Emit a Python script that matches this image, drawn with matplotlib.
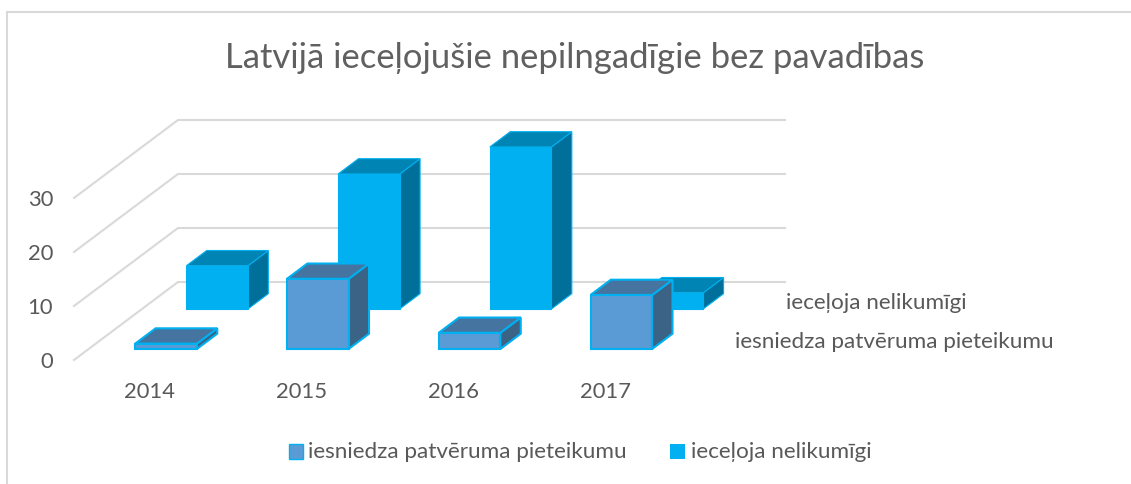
import matplotlib
matplotlib.use("Agg")
import matplotlib.pyplot as plt
from matplotlib.patches import Rectangle

# values
years = ["2014", "2015", "2016", "2017"]
asylum = [1, 13, 3, 10]
illegal = [8, 25, 30, 3]
series_names = ["iesniedza patvēruma pieteikumu", "ieceļoja nelikumīgi"]
value_ticks = [0, 10, 20, 30]
title = "Latvijā ieceļojušie nepilngadīgie bez pavadības"

W, H = 1131, 484
plt.rcParams["font.family"] = ["Lato", "Noto Sans", "DejaVu Sans"]
TEXT = "#595959"

fig = plt.figure(figsize=(W / 100, H / 100), dpi=100)

# front wall of the chart box in pixels, the depth is added on top of it
left, right, bottom, top = 74, 681, 360, 198
ax = fig.add_axes([left / W, 1 - bottom / H, (right - left) / W, (bottom - top) / H])
ax.set_xlim(-0.5, 3.5)
ax.set_ylim(0, 30)
ax.patch.set_visible(False)
for s in ax.spines.values():
    s.set_visible(False)

# one unit of depth moves 104 px right and 78 px up
DX = 104 / ((right - left) / 4)
DY = 78 / ((bottom - top) / 30)


def px(x, y, d):
    return x + d * DX, y + d * DY


def bar3d(i, value, d0, d1, front, top_c, side, edge, lw):
    w = 0.203
    x0, x1 = i - w, i + w
    face = [px(x0, 0, d0), px(x1, 0, d0), px(x1, value, d0), px(x0, value, d0)]
    roof = [px(x0, value, d0), px(x1, value, d0), px(x1, value, d1), px(x0, value, d1)]
    wall = [px(x1, 0, d0), px(x1, 0, d1), px(x1, value, d1), px(x1, value, d0)]
    for verts, c in ((wall, side), (roof, top_c), (face, front)):
        ax.fill(*zip(*verts), facecolor=c, edgecolor=edge, linewidth=lw,
                joinstyle="miter", clip_on=False, zorder=2)


# gridlines: floor/side wall part then back wall part
for v in value_ticks:
    xs = [-0.5, -0.5 + DX, 3.5 + DX]
    ys = [v, v + DY, v + DY]
    ax.plot(xs, ys, color="#d9d9d9", linewidth=1.5, clip_on=False, zorder=1)

# back row first, then the front row over it
for i, v in enumerate(illegal):
    bar3d(i - 0.005, v, 0.654, 0.85, "#00b0f0", "#0084b4", "#00709a", "#00b0f0", 0.8)
for i, v in enumerate(asylum):
    bar3d(i + 0.01, v, 0.141, 0.337, "#5b9bd5", "#44749f", "#3a6386", "#00b0f0", 1.5)

ax.set_xticks(range(len(years)))
ax.set_xticklabels(years)
ax.set_yticks(value_ticks)
ax.tick_params(axis="x", length=0, pad=16, labelsize=15.8, labelcolor=TEXT)
ax.tick_params(axis="y", length=0, pad=15, labelsize=15.8, labelcolor=TEXT)
for lab in ax.get_yticklabels():
    lab.set_verticalalignment("center_baseline")

# series names next to the depth axis
fig.text(876 / W, 1 - 303 / H, series_names[1], ha="center", va="center",
         fontsize=16.2, color=TEXT)
fig.text(894 / W, 1 - 342 / H, series_names[0], ha="center", va="center",
         fontsize=16.2, color=TEXT)

fig.text(574.5 / W, 1 - 58.5 / H, title, ha="center", va="center", fontsize=24.9, color="#606060")

# legend
fig.patches.append(Rectangle((288.5 / W, 1 - 459 / H), 14 / W, 15 / H, transform=fig.transFigure,
                             facecolor="#5b9bd5", edgecolor="#00b0f0", linewidth=1))
fig.text(308 / W, 1 - 452 / H, series_names[0], ha="left", va="center",
         fontsize=16.2, color=TEXT)
fig.patches.append(Rectangle((670 / W, 1 - 459 / H), 15 / W, 15 / H, transform=fig.transFigure,
                             facecolor="#00b0f0", edgecolor="none"))
fig.text(691 / W, 1 - 452 / H, series_names[1], ha="left", va="center",
         fontsize=16.2, color=TEXT)

# chart frame, the bottom and right sides are cut off in the source
fig.add_artist(plt.Line2D([6.5 / W, 6.5 / W], [0, 1 - 11.5 / H], color="#d9d9d9", linewidth=1.5))
fig.add_artist(plt.Line2D([6.5 / W, 1], [1 - 11.5 / H, 1 - 11.5 / H], color="#d9d9d9", linewidth=1.5))

fig.savefig("out.png", dpi=100)
